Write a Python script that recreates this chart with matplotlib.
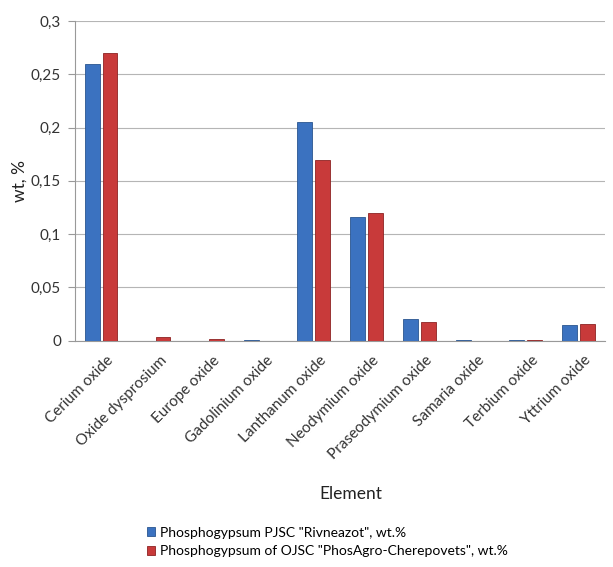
import matplotlib
matplotlib.use("Agg")
import matplotlib.pyplot as plt
import numpy as np

categories = ["Cerium oxide", "Oxide dysprosium", "Europe oxide", "Gadolinium oxide",
              "Lanthanum oxide", "Neodymium oxide", "Praseodymium oxide", "Samaria oxide",
              "Terbium oxide", "Yttrium oxide"]
rivneazot = [0.26, 0.0, 0.0, 0.001, 0.205, 0.116, 0.02, 0.001, 0.001, 0.015]
phosagro = [0.27, 0.004, 0.002, 0.0, 0.17, 0.12, 0.018, 0.0, 0.001, 0.016]
series_names = ['Phosphogypsum PJSC "Rivneazot", wt.%',
                'Phosphogypsum of OJSC "PhosAgro-Cherepovets", wt.%']
yticks = [0, 0.05, 0.1, 0.15, 0.2, 0.25, 0.3]
ytick_labels = ["0", "0,05", "0,1", "0,15", "0,2", "0,25", "0,3"]

plt.rcParams['font.family'] = ['Lato', 'DejaVu Sans']

fig = plt.figure(figsize=(6.13, 5.67), dpi=100)
ax = fig.add_axes([0.122, 0.399, 0.865, 0.564])

x = np.arange(len(categories))
w = 0.28
gap = 0.05
ax.bar(x - w/2 - gap/2, rivneazot, w, color="#3b72c0", edgecolor="#2a5590", linewidth=0.6,
       label=series_names[0], zorder=3)
ax.bar(x + w/2 + gap/2, phosagro, w, color="#c83a3a", edgecolor="#8e2323", linewidth=0.6,
       label=series_names[1], zorder=3)

ax.set_xlim(-0.5, len(categories) - 0.5)
ax.set_ylim(0, 0.3)
ax.set_yticks(yticks)
ax.set_yticklabels(ytick_labels, fontsize=11, color="#333333")
ax.yaxis.grid(True, color="#b5b5b5", linewidth=0.8, zorder=0)
ax.set_axisbelow(True)
ax.set_xticks(x + 0.1)
ax.set_xticklabels(categories, rotation=45, ha="right", rotation_mode="anchor",
                   fontsize=11, color="#333333")
ax.tick_params(axis="x", length=0, pad=9)
ax.tick_params(axis="y", length=5, color="#999999", direction="out", pad=5)
for s in ["top", "right"]:
    ax.spines[s].set_visible(False)
ax.spines["left"].set_color("#999999")
ax.spines["bottom"].set_color("#999999")
ax.set_ylabel("wt, %", fontsize=12.5, color="#222222", labelpad=2)
ax.set_xlabel("Element", fontsize=12.5, color="#222222", labelpad=10)
ax.xaxis.set_label_coords(0.52, -0.455)

fig.legend(loc="upper left", bbox_to_anchor=(0.24, 0.071), frameon=False,
           fontsize=10, handlelength=0.6, handleheight=0.6, handletextpad=0.35,
           labelspacing=0.45, borderpad=0, borderaxespad=0)

fig.savefig("out.png", dpi=100)
